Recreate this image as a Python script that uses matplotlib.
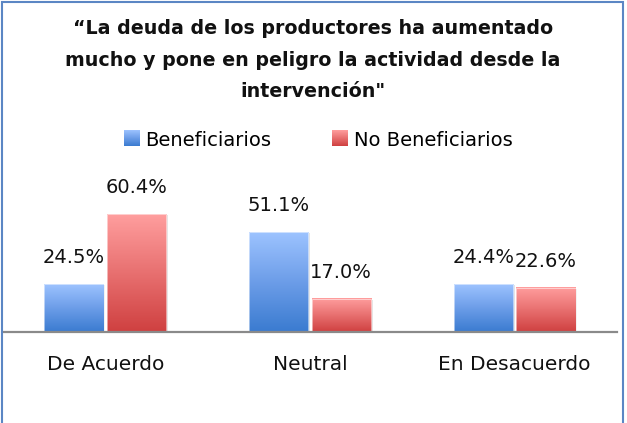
import numpy as np
import matplotlib
matplotlib.use("Agg")
import matplotlib.pyplot as plt
from matplotlib.colors import LinearSegmentedColormap
from matplotlib.legend_handler import HandlerBase
from matplotlib.image import BboxImage
from matplotlib.transforms import Bbox, TransformedBbox
from matplotlib.patches import Rectangle

# data
categories = ["De Acuerdo", "Neutral", "En Desacuerdo"]
series_names = ["Beneficiarios", "No Beneficiarios"]
beneficiarios = [24.5, 51.1, 24.4]
no_beneficiarios = [60.4, 17.0, 22.6]
title = "\u201cLa deuda de los productores ha aumentado\nmucho y pone en peligro la actividad desde la\nintervenci\u00f3n\""

# gradient colours (bottom -> top)
blue_cmap = LinearSegmentedColormap.from_list("blu", ["#3a7bd0", "#6c9de8", "#9dc3ff"])
red_cmap = LinearSegmentedColormap.from_list("rd", ["#cf4040", "#e87070", "#ff9e9e"])
grad = np.linspace(0, 1, 256).reshape(-1, 1)[::-1]

plt.rcParams['font.family'] = 'DejaVu Sans'
fig = plt.figure(figsize=(6.27, 4.23), dpi=100)
ax = fig.add_axes([3/627, 1 - 331.7/423, 614/627, 136.5/423])

x = np.arange(len(categories))
w = 0.29
off = 0.1525
for vals, shift, cmap in [(beneficiarios, -off, blue_cmap), (no_beneficiarios, off, red_cmap)]:
    bars = ax.bar(x + shift, vals, w, color="none", edgecolor="none", zorder=3)
    for b, v in zip(bars, vals):
        x0, bw, h = b.get_x(), b.get_width(), b.get_height()
        # soft shadow
        ax.add_patch(Rectangle((x0 + 0.008, -0.6), bw, h, color="#000000", alpha=0.10,
                               lw=0, zorder=2))
        ax.imshow(grad, extent=[x0, x0 + bw, 0, h], aspect="auto", cmap=cmap,
                  vmin=0, vmax=1, zorder=3, interpolation="bilinear")
        ax.add_patch(Rectangle((x0, 0), bw, h, fill=False, edgecolor="white",
                               lw=0.6, alpha=0.6, zorder=4))
        ax.annotate(f"{v:.1f}%", (x0 + bw / 2, h), xytext=(0, 15),
                    textcoords="offset points", ha="center", va="baseline",
                    fontsize=14, color="#111111")

ax.set_xlim(-0.5, 2.5)
ax.set_ylim(0, 70)
ax.set_xticks(x)
ax.set_xticklabels(categories, fontsize=14.5, color="#111111")
ax.tick_params(axis="x", length=0, pad=17)
ax.set_yticks([])
for s in ["top", "right", "left"]:
    ax.spines[s].set_visible(False)
ax.spines["bottom"].set_color("#8a8a8a")
ax.spines["bottom"].set_linewidth(1.6)
ax.spines["bottom"].set_zorder(5)
ax.patch.set_alpha(0)


class GradientSquare(HandlerBase):
    def __init__(self, cmap):
        super().__init__()
        self.cmap = cmap

    def create_artists(self, legend, orig_handle, xdescent, ydescent, width, height, fontsize, trans):
        side = min(width, height)
        bb = Bbox.from_bounds(-xdescent, -ydescent + (height - side) / 2, side, side)
        img = BboxImage(TransformedBbox(bb, trans), cmap=self.cmap, norm=plt.Normalize(0, 1),
                        interpolation="bilinear")
        img.set_data(grad)
        return [img]


h1 = Rectangle((0, 0), 1, 1)
h2 = Rectangle((0, 0), 1, 1)
fig.legend([h1, h2], series_names, loc="center", bbox_to_anchor=(318/627, 1 - 140/423),
           ncol=2, frameon=False, fontsize=14, handlelength=0.82, handleheight=0.82,
           handletextpad=0.31, columnspacing=3.1, borderpad=0,
           handler_map={h1: GradientSquare(blue_cmap), h2: GradientSquare(red_cmap)})

fig.text(313/627, 1 - 60/423, title, ha="center", va="center", fontsize=13.7,
         fontweight="bold", linespacing=1.83, color="#111111")

# outer frame
fig.patches.append(Rectangle((2/627, -0.1), 621/627, 1.1 - 2/423, transform=fig.transFigure,
                             fill=False, edgecolor="#5b86c4", lw=1.5))

fig.savefig("out.png", dpi=100)
